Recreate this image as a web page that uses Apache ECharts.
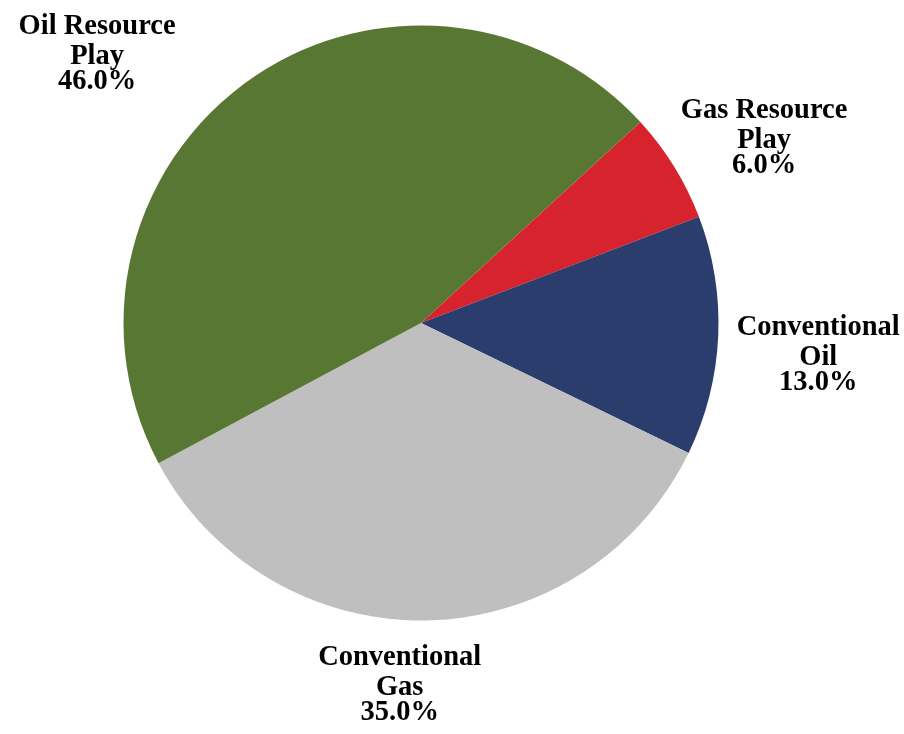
<!DOCTYPE html>
<html>
<head>
<meta charset="utf-8">
<title>Portfolio mix</title>
<script src="https://cdn.jsdelivr.net/npm/echarts@6/dist/echarts.min.js"></script>
<style>
  html, body { margin: 0; padding: 0; background: #ffffff; }
  #chart { width: 904px; height: 734px; }
</style>
</head>
<body>
<div id="chart"></div>
<script>
// Slice names and shares (percent), listed clockwise from the green/red boundary
const categories = ['Gas Resource Play', 'Conventional Oil', 'Conventional Gas', 'Oil Resource Play'];
const shares = [6.0, 13.0, 35.0, 46.0];
const sliceColors = ['#D7232D', '#2A3D6C', '#BFBFBF', '#587733'];

// Label nudges from the default outside anchor, in px
const labelOffsets = [[85, -31], [95, 17], [-32, 62], [-147, -29]];

// Break a name onto two lines at its last space
function splitName(name) {
  const k = name.lastIndexOf(' ');
  return [name.slice(0, k), name.slice(k + 1)];
}

const textBase = {
  fontFamily: 'Liberation Serif',
  fontWeight: 'bold',
  fontSize: 28.5,
  color: '#000000'
};

const chart = echarts.init(document.getElementById('chart'), null, { renderer: 'canvas' });

chart.setOption({
  animation: false,
  backgroundColor: '#ffffff',
  series: [{
    type: 'pie',
    center: [421, 323],
    radius: 297.5,
    startAngle: 42.5,
    clockwise: true,
    avoidLabelOverlap: false,
    data: categories.map((name, i) => ({
      name: name,
      value: shares[i],
      itemStyle: { color: sliceColors[i] }
    })),
    itemStyle: { borderWidth: 0 },
    emphasis: { disabled: true },
    label: {
      show: true,
      position: 'outside',
      distanceToLabelLine: 5,
      formatter: function (p) {
        const parts = splitName(p.name);
        return '{n|' + parts[0] + '}\n{n|' + parts[1] + '}\n{p|' + p.value.toFixed(1) + '%}';
      },
      rich: {
        n: Object.assign({ lineHeight: 30 }, textBase),
        p: Object.assign({ lineHeight: 20 }, textBase)
      }
    },
    labelLine: { show: false, length: 0, length2: 0 },
    labelLayout: function (params) {
      const off = labelOffsets[params.dataIndex];
      return {
        align: 'center',
        verticalAlign: 'middle',
        dx: off[0],
        dy: off[1]
      };
    }
  }]
});
</script>
</body>
</html>
